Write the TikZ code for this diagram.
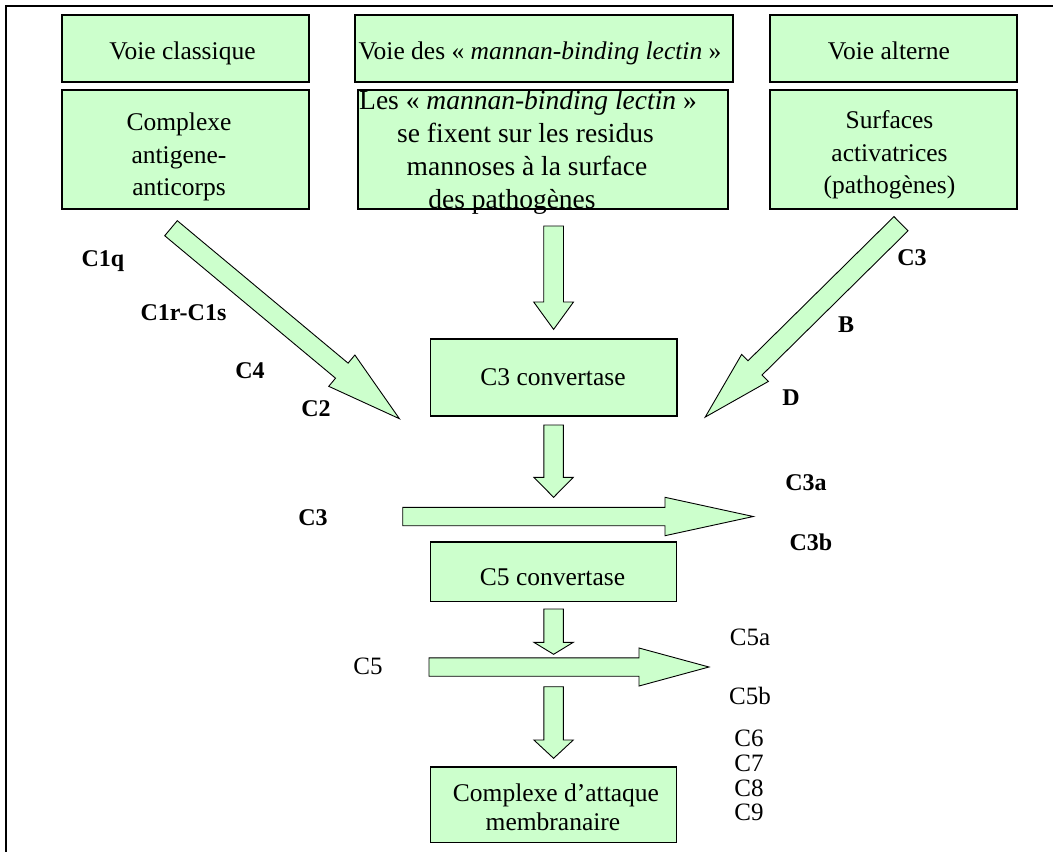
\documentclass[tikz,border=0pt]{standalone}
\usepackage{fontspec}
\setmainfont{Liberation Serif}
\usetikzlibrary{calc}
\definecolor{palegreen}{RGB}{204,255,204}
\tikzset{
  box/.style={draw=black, line width=1.3pt, fill=palegreen, inner sep=0pt},
  barrow/.style={draw=black, line width=0.9pt, fill=palegreen, line join=miter},
  txt/.style={inner sep=0pt, anchor=base, font=\fontsize{25.5}{29}\selectfont},
  txtl/.style={inner sep=0pt, anchor=base, font=\fontsize{27.5}{32}\selectfont},
  lbl/.style={inner sep=0pt, anchor=base, font=\fontsize{24}{28}\selectfont\bfseries},
  lbr/.style={inner sep=0pt, anchor=base, font=\fontsize{25}{28}\selectfont},
}
% block arrow: tail, tip, shaft half-width, head half-width, head length
\newcommand{\blockarrow}[5]{%
  \coordinate (#1-hb) at ($(#2)!#5!(#1)$);
  \filldraw[barrow] ($(#1)!#3!90:(#2)$) -- ($(#1-hb)!#3!90:(#2)$)
    -- ($(#1-hb)!#4!90:(#2)$) -- (#2) -- ($(#1-hb)!#4!-90:(#2)$)
    -- ($(#1-hb)!#3!-90:(#2)$) -- ($(#1)!#3!-90:(#2)$) -- cycle;}
\begin{document}
\begin{tikzpicture}[x=1pt,y=-1pt]
\useasboundingbox (0,0) rectangle (1053,852);
% frame
\draw[line width=2pt] (1053,6) -- (6,6) -- (6,852);

% pathway headers
\node[box, minimum width=247, minimum height=67] (vc) at (185.5,48.5) {};
\node[box, minimum width=378, minimum height=67] (vm) at (544,48.5) {};
\node[box, minimum width=247, minimum height=67] (va) at (893.5,48.5) {};
\node[txt] (vct) at (182.5,59) {Voie classique};
\node[txt] (vmt) at (540,59) {Voie des « \textit{mannan-binding lectin} »};
\node[txt] (vat) at (889,59) {Voie alterne};

% triggers
\node[box, minimum width=247, minimum height=119] (cx) at (185.5,149.5) {};
\node[box, minimum width=370, minimum height=119] (lm) at (543,149.5) {};
\node[box, minimum width=247, minimum height=119] (sa) at (893.5,149.5) {};
\node[txt] (cx1) at (179,130) {Complexe};
\node[txt] (cx2) at (179,163) {antigene-};
\node[txt] (cx3) at (179,195.5) {anticorps};
\node[txtl] (lm1) at (528,109) {Les « \textit{mannan-binding lectin} »};
\node[txtl] (lm2) at (525.5,142) {se fixent sur les residus};
\node[txtl] (lm3) at (527,175) {mannoses à la surface};
\node[txtl] (lm4) at (512,208) {des pathogènes};
\node[txt] (sa1) at (889.5,128) {Surfaces};
\node[txt] (sa2) at (889.5,161) {activatrices};
\node[txt] (sa3) at (889.5,193.5) {(pathogènes)};

% cascade boxes
\node[box, minimum width=246.5, minimum height=77] (c3c) at (553.75,377.5) {};
\node[txt] (c3ct) at (553,385) {C3 convertase};
\node[box, minimum width=246, minimum height=59.7] (c5c) at (553.7,571.85) {};
\node[txt] (c5ct) at (552.5,585) {C5 convertase};
\node[box, minimum width=246, minimum height=75.7] (mac) at (553.7,804.85) {};
\node[txt] (mac1) at (556,801.7) {Complexe d’attaque};
\node[txt] (mac2) at (553,830) {membranaire};

% arrow end points
\coordinate (aL) at (171,228.2);   \coordinate (aLt) at (399.4,418.7);
\coordinate (aM) at (553.6,226);   \coordinate (aMt) at (553.6,329.4);
\coordinate (aR) at (901,223.7);   \coordinate (aRt) at (705.2,417.1);
\coordinate (d1) at (553.6,425);   \coordinate (d1t) at (553.6,497.3);
\coordinate (h3) at (402.7,516.5); \coordinate (h3t) at (753.3,516.5);
\coordinate (d2) at (553.6,609);   \coordinate (d2t) at (553.6,654.3);
\coordinate (h5) at (429,667);     \coordinate (h5t) at (709,667);
\coordinate (d3) at (553.6,686.7); \coordinate (d3t) at (553.6,758.3);

\blockarrow{aL}{aLt}{9.8pt}{20.4pt}{75pt}
\blockarrow{aM}{aMt}{9.85pt}{19.9pt}{27.4pt}
\blockarrow{aR}{aRt}{10pt}{19pt}{70pt}
\blockarrow{d1}{d1t}{9.7pt}{19.7pt}{20pt}
\blockarrow{h3}{h3t}{9.2pt}{19.2pt}{88.3pt}
\blockarrow{d2}{d2t}{9.7pt}{19.7pt}{12pt}
\blockarrow{h5}{h5t}{9.2pt}{19pt}{70pt}
\blockarrow{d3}{d3t}{9.7pt}{19.7pt}{18.3pt}

% classical pathway components
\node[lbl] (c1q) at (103,266) {C1q};
\node[lbl] (c1rs) at (183.5,320.5) {C1r-C1s};
\node[lbl] (c4) at (250,378) {C4};
\node[lbl] (c2) at (316,416) {C2};
% alternative pathway components
\node[lbl] (c3r) at (912,265) {C3};
\node[lbl] (fb) at (846,332) {B};
\node[lbl] (fd) at (791,405) {D};
% C3 cleavage
\node[lbl] (c3l) at (313,525) {C3};
\node[lbl] (c3a) at (806,490) {C3a};
\node[lbl] (c3b) at (811,550) {C3b};
% C5 cleavage and terminal components
\node[lbr] (c5) at (368,674.3) {C5};
\node[lbr] (c5a) at (750,645) {C5a};
\node[lbr] (c5b) at (750,704.3) {C5b};
\node[lbr] (c6) at (749,746.7) {C6};
\node[lbr] (c7) at (749,771.3) {C7};
\node[lbr] (c8) at (749,796) {C8};
\node[lbr] (c9) at (749,820) {C9};
\end{tikzpicture}
\end{document}
